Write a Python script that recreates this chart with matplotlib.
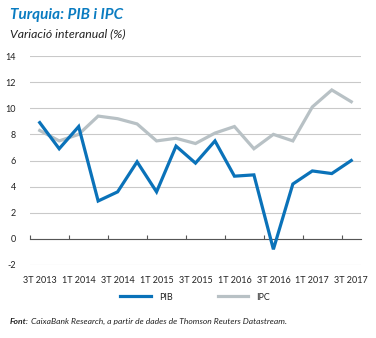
import matplotlib.pyplot as plt
import numpy as np

plt.rcParams["font.family"] = ["Lato", "DejaVu Sans"]

COLORS = {
    "blue": "#0a72b9",
    "gray": "#b8c1c5",
    "grid": "#c9c9c9",
    "axis": "#555555",
    "text": "#222222",
    "title": "#0a7cc1",
}

quarters = [
    "3T 2013", "4T 2013", "1T 2014", "2T 2014", "3T 2014", "4T 2014",
    "1T 2015", "2T 2015", "3T 2015", "4T 2015", "1T 2016", "2T 2016",
    "3T 2016", "4T 2016", "1T 2017", "2T 2017", "3T 2017",
]
pib = [8.9, 6.9, 8.6, 2.9, 3.6, 5.9, 3.6, 7.1, 5.8, 7.5, 4.8, 4.9, -0.8, 4.2, 5.2, 5.0, 6.0]
ipc = [8.3, 7.5, 8.0, 9.4, 9.2, 8.8, 7.5, 7.7, 7.3, 8.1, 8.6, 6.9, 8.0, 7.5, 10.1, 11.4, 10.5]
y_ticks = [-2, 0, 2, 4, 6, 8, 10, 12, 14]

W, H = 376, 338
fig = plt.figure(figsize=(W / 100, H / 100), dpi=100, facecolor="white")
ax = fig.add_axes([30 / W, 1 - 265 / H, (361 - 30) / W, (265 - 56) / H])

x = np.arange(len(quarters))
ax.plot(x, ipc, color=COLORS["gray"], linewidth=2.3, solid_joinstyle="miter", label="IPC", zorder=3)
ax.plot(x, pib, color=COLORS["blue"], linewidth=2.3, solid_joinstyle="miter", label="PIB", zorder=4)

ax.set_xlim(-0.5, len(quarters) - 0.5)
ax.set_ylim(-2, 14)
ax.set_yticks(y_ticks)
ax.set_yticklabels([str(v) for v in y_ticks], fontsize=6.5, color=COLORS["text"])
ax.tick_params(axis="y", length=0, pad=10)
ax.grid(axis="y", color=COLORS["grid"], linewidth=0.8)
ax.set_axisbelow(True)

for side in ["top", "right", "left"]:
    ax.spines[side].set_visible(False)
ax.spines["bottom"].set_position(("data", 0))
ax.spines["bottom"].set_color(COLORS["axis"])
ax.spines["bottom"].set_linewidth(0.8)

ax.set_xticks(x[::2])
ax.set_xticklabels(quarters[::2], fontsize=6.5, color=COLORS["text"])
ax.set_xticks(np.arange(-0.5, len(quarters) - 1, 2), minor=True)
ax.tick_params(axis="x", which="major", length=0, pad=27)
ax.tick_params(axis="x", which="minor", direction="in", length=3, width=0.8, color=COLORS["axis"])

handles, labels = ax.get_legend_handles_labels()
fig.legend(
    handles[::-1], labels[::-1],
    loc="center", bbox_to_anchor=(195 / W, 1 - 297 / H), ncol=2, frameon=False,
    fontsize=6.5, handlelength=3.4, columnspacing=5.0, handletextpad=0.9,
    labelcolor=COLORS["text"],
)

fig.text(10 / W, 1 - 15 / H, "Turquia: PIB i IPC", fontsize=11, fontweight="bold",
         fontstyle="italic", color=COLORS["title"], va="center")
fig.text(10 / W, 1 - 34 / H, "Variació interanual (%)", fontsize=8.8,
         fontstyle="italic", color=COLORS["text"], va="center")

src = fig.text(10 / W, 1 - 321 / H, "Font:", fontsize=6.1, fontweight="bold",
               fontstyle="italic", color=COLORS["text"], va="center")
fig.canvas.draw()
ax.annotate(" CaixaBank Research, a partir de dades de Thomson Reuters Datastream.",
            xy=(1, 0.5), xycoords=src, va="center", ha="left", fontsize=6.1,
            fontstyle="italic", color=COLORS["text"], annotation_clip=False)

fig.savefig("out.png", dpi=100, facecolor="white")
